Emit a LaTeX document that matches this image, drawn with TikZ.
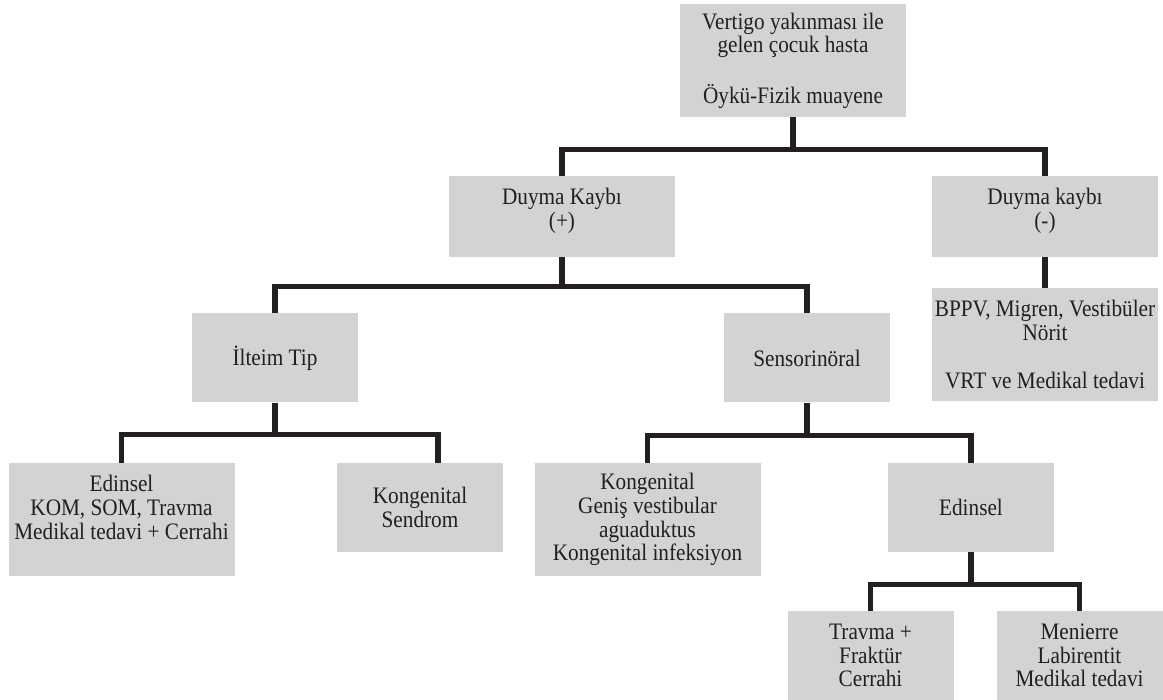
\documentclass[tikz,border=0pt]{standalone}
\usepackage{fontspec}
\setmainfont{Liberation Serif}[FakeStretch=0.9]
\usepackage{xcolor}
\definecolor{boxgray}{RGB}{209,211,212}
\definecolor{linedark}{RGB}{35,31,32}

\begin{document}
\begin{tikzpicture}[x=0.5pt,y=-0.5pt,text=linedark]
  \tikzstyle{box}=[fill=boxgray,draw=none,align=center,inner sep=0pt,font=\fontsize{11.8}{11.9}\selectfont,minimum height=44.5pt]
  \tikzstyle{wide}=[box,minimum width=113pt]
  \tikzstyle{narrow}=[box,minimum width=83pt]
  \tikzstyle{tall}=[minimum height=56.5pt]
  \tikzstyle{link}=[draw=linedark,line width=2.6pt]

  \useasboundingbox (0,0) rectangle (1163,700);

  \node[wide,tall]  (top)  at (793,60.5)    {Vertigo yakınması ile\\gelen çocuk hasta\\[12pt]Öykü-Fizik muayene};
  \node[wide,minimum height=40.5pt] (dpos) at (562,216.5) {Duyma Kaybı\\(+)\\[-4pt]\mbox{}};
  \node[wide,minimum height=40.5pt] (dneg) at (1045,216.5) {Duyma kaybı\\(-)\\[-4pt]\mbox{}};
  \node[wide,tall]  (bppv) at (1045,344.5)  {BPPV, Migren, Vestibüler\\Nörit\\[12pt]VRT ve Medikal tedavi};
  \node[narrow]     (ilt)  at (275,358)     {İlteim Tip};
  \node[narrow]     (sen)  at (807,358)     {Sensorinöral};
  \node[wide,tall]  (edo)  at (121.5,519.5) {Edinsel\\KOM, SOM, Travma\\Medikal tedavi + Cerrahi\\\mbox{}};
  \node[narrow]     (kso)  at (420,507.5)   {Kongenital\\Sendrom};
  \node[wide,tall]  (kgs)  at (647.5,519.5) {Kongenital\\Geniş vestibular\\aguaduktus\\Kongenital infeksiyon};
  \node[narrow]     (eds)  at (971,507.5)   {Edinsel};
  \node[narrow]     (trv)  at (870.5,655.5) {Travma +\\Fraktür\\Cerrahi};
  \node[narrow]     (men)  at (1079.5,655.5) {Menierre\\Labirentit\\Medikal tedavi};

  % junctions
  \path (top.south) ++(0,32) coordinate (j0);
  \path (dpos.south) ++(0,29) coordinate (j1);
  \path (ilt.south) ++(0,32) coordinate (j2);
  \path (sen.south) ++(0,33) coordinate (j3);
  \path (eds.south) ++(0,32) coordinate (j4);

  \draw[link] (top.south) -- (j0);
  \draw[link] (dpos.north) |- (j0) -| (dneg.north);
  \draw[link] (dneg.south) -- (bppv.north);
  \draw[link] (dpos.south) -- (j1);
  \draw[link] (ilt.north) |- (j1) -| (sen.north);
  \draw[link] (ilt.south) -- (j2);
  \draw[link] (edo.north) |- (j2) -| ([xshift=9pt]kso.north);
  \draw[link] (sen.south) -- (j3);
  \draw[link] (kgs.north) |- (j3) -| (eds.north);
  \draw[link] (eds.south) -- (j4);
  \draw[link] (trv.north) |- (j4) -| (men.north);
\end{tikzpicture}
\end{document}
